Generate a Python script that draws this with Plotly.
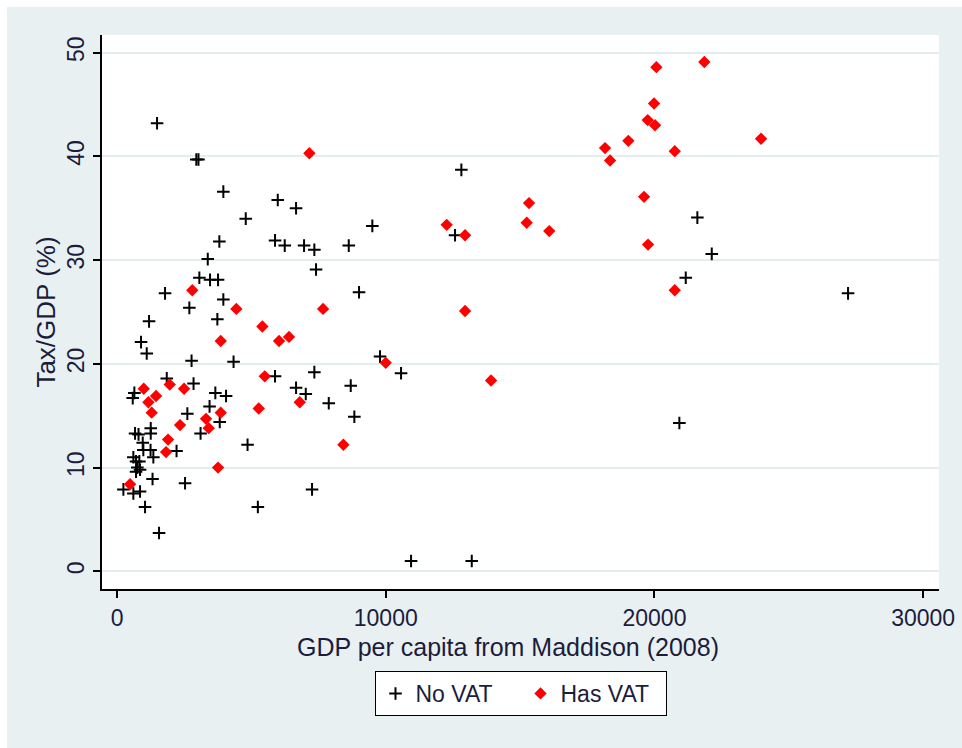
import plotly.graph_objects as go

# Countries without a VAT: GDP per capita (Maddison 2008) and tax/GDP (%)
no_vat_gdp = [2950, 3030, 1489, 3956, 5981, 6662, 4790, 9501, 3807, 5880,
              6241, 6960, 7343, 8623, 3376, 7406, 3063, 3461, 3759, 9006,
              2691, 3956, 3733, 1786, 1191, 893, 1105, 2773, 4336, 9788,
              10570, 7343, 5880, 2847, 1850, 3658, 4057, 6662, 7023, 8697,
              7879, 8831, 3443, 2616, 3822, 3108, 4857, 2531, 7257, 5240,
              10942, 13201, 12814, 12579, 21597, 22133, 21165, 20927, 27205, 644,
              584, 1254, 1254, 670, 800, 956, 979, 1247, 1351, 607,
              707, 830, 756, 707, 856, 1321, 2214, 236, 607, 856,
              1042, 1563]
no_vat_tax = [39.7, 39.7, 43.2, 36.6, 35.8, 35.0, 34.0, 33.3, 31.8, 31.9,
              31.4, 31.4, 31.0, 31.4, 30.1, 29.1, 28.3, 28.1, 28.1, 26.9,
              25.4, 26.2, 24.3, 26.8, 24.1, 22.1, 21.0, 20.3, 20.2, 20.7,
              19.1, 19.2, 18.8, 18.1, 18.6, 17.2, 16.9, 17.7, 17.1, 17.9,
              16.2, 14.9, 15.9, 15.2, 14.4, 13.3, 12.2, 8.5, 7.9, 6.2,
              1.0, 1.0, 38.7, 32.4, 34.1, 30.6, 28.3, 14.3, 26.8, 17.2,
              16.7, 13.8, 13.3, 13.3, 13.2, 12.4, 11.7, 11.7, 11.0, 11.0,
              10.6, 10.6, 10.0, 9.6, 9.8, 8.9, 11.6, 7.9, 7.5, 7.7,
              6.2, 3.7]

# Countries with a VAT
has_vat_gdp = [484, 994, 1166, 1290, 1451, 1824, 1898, 1961, 2345, 2494,
               2800, 3312, 3412, 3759, 3859, 3859, 4440, 5274, 5408, 5497,
               6029, 6400, 6800, 7157, 7667, 8424, 10000, 12268, 12952, 12952,
               13919, 15246, 15333, 16086, 18162, 18348, 19029, 19613, 19750, 19762,
               19985, 20022, 20071, 20756, 20756, 21857, 23967]
has_vat_tax = [8.4, 17.6, 16.3, 15.3, 16.9, 11.5, 12.7, 18.0, 14.1, 17.6,
               27.1, 14.7, 13.8, 10.0, 15.3, 22.2, 25.3, 15.7, 23.6, 18.8,
               22.2, 22.6, 16.3, 40.3, 25.3, 12.2, 20.1, 33.4, 32.4, 25.1,
               18.4, 33.6, 35.5, 32.8, 40.8, 39.6, 41.5, 36.1, 43.5, 31.5,
               45.1, 43.0, 48.6, 40.5, 27.1, 49.1, 41.7]

x_ticks = [0, 10000, 20000, 30000]
x_tick_labels = ["0", "10000", "20000", "30000"]
y_ticks = [0, 10, 20, 30, 40, 50]
y_tick_labels = ["0", "10", "20", "30", "40", "50"]

FONT = "Liberation Sans, Arial, sans-serif"
TEXT = "#1c1c3c"
BG = "#e8f0f2"

fig = go.Figure()
fig.add_trace(go.Scatter(
    x=no_vat_gdp, y=no_vat_tax, mode="markers", name="No VAT",
    marker=dict(symbol="cross-thin", size=9, color="black",
                line=dict(color="black", width=2)),
))
fig.add_trace(go.Scatter(
    x=has_vat_gdp, y=has_vat_tax, mode="markers", name="Has VAT",
    marker=dict(symbol="diamond", size=9.5, color="#ff0000",
                line=dict(width=0)),
))

axis_common = dict(
    showline=True, linecolor="black", linewidth=2,
    ticks="outside", ticklen=7, tickwidth=1.5, tickcolor="black",
    zeroline=False, mirror=False, automargin=False,
    tickfont=dict(family=FONT, size=23, color=TEXT),
)

fig.update_layout(
    width=962, height=748,
    margin=dict(l=102, r=23, t=35, b=159),
    paper_bgcolor=BG,
    plot_bgcolor="white",
    font=dict(family=FONT, color=TEXT),
    showlegend=True,
    legend=dict(
        orientation="h", x=0.5, xanchor="center", y=-0.148, yanchor="top",
        bgcolor="white", bordercolor="black", borderwidth=1,
        font=dict(family=FONT, size=23, color=TEXT),
        entrywidth=100,
    ),
    xaxis=dict(
        range=[-560, 30590], tickvals=x_ticks, ticktext=x_tick_labels,
        showgrid=False,
        **axis_common,
    ),
    yaxis=dict(
        range=[-1.7, 51.7], tickvals=y_ticks, ticktext=y_tick_labels,
        tickangle=-90,
        showgrid=True, gridcolor="#e3ecef", gridwidth=2,
        title=dict(text="Tax/GDP (%)", standoff=0,
                   font=dict(family=FONT, size=26, color=TEXT)),
        **axis_common,
    ),
    annotations=[
        # x-axis title, set slightly left of the plot centre
        dict(text="GDP per capita from Maddison (2008)", xref="paper", yref="paper",
             x=0.485, y=-0.1047, xanchor="center", yanchor="middle",
             showarrow=False, font=dict(family=FONT, size=25, color=TEXT)),
    ],
    shapes=[
        # thin white margin along the top and left edges of the page
        dict(type="rect", xref="paper", yref="paper", layer="below",
             x0=-0.2, x1=1.2, y0=1.0505, y1=1.2, fillcolor="white", line_width=0),
        dict(type="rect", xref="paper", yref="paper", layer="below",
             x0=-0.2, x1=-0.1135, y0=-0.4, y1=1.2, fillcolor="white", line_width=0),
    ],
)

fig.write_html("out.html")
